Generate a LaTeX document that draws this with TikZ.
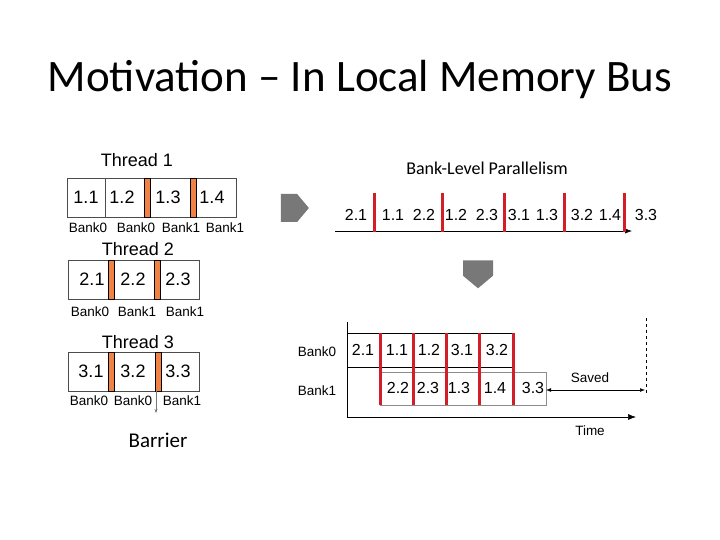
\documentclass[tikz,border=0pt]{standalone}
\usepackage{fontspec}
\setmainfont{Liberation Sans}
\newfontfamily\calfont{Carlito}
\usetikzlibrary{arrows.meta,shapes.arrows}
\definecolor{org}{RGB}{240,130,70}
\definecolor{rd}{RGB}{210,30,40}
\definecolor{gr}{RGB}{120,120,120}
\tikzset{num/.style={font=\fontsize{18}{18}\selectfont,inner sep=0pt},
 bank/.style={font=\fontsize{13.5}{13.5}\selectfont,inner sep=0pt},
 ttl/.style={font=\fontsize{18}{18}\selectfont,inner sep=0pt},
 obar/.style={fill=org,draw=black,line width=0.5pt},
 rbar/.style={draw=rd,line width=3pt},
 cell/.style={draw=black!70,line width=0.6pt},
 garrow/.style={fill=gr,draw=none,single arrow,minimum height=#1,inner sep=0pt,single arrow head extend=0pt,single arrow tip angle=100}}
\begin{document}
\begin{tikzpicture}[x=1pt,y=-1pt]
\useasboundingbox (0,0) rectangle (720,540);
\node[font=\calfont\fontsize{45}{45}\selectfont] (title) at (360,80) {Motivation – In Local Memory Bus};
% Thread 1
\node[ttl] (t1) at (137,160) {Thread 1};
\draw[cell] (67,178) rectangle (236,217);
\draw[cell] (105,178) -- (105,217);
\draw[obar] (144,178) rectangle (150,217);
\draw[obar] (190,178) rectangle (196,217);
\node[num] (c11) at (86,197) {1.1};
\node[num] (c12) at (122,197) {1.2};
\node[num] (c13) at (168,197) {1.3};
\node[num] (c14) at (212,197) {1.4};
\node[bank] (b11) at (88,228) {Bank0};
\node[bank] (b12) at (136,228) {Bank0};
\node[bank] (b13) at (181,228) {Bank1};
\node[bank] (b14) at (225,228) {Bank1};
% Thread 2
\node[ttl] (t2) at (138,249) {Thread 2};
\draw[cell] (68,260) rectangle (199,299);
\draw[obar] (108,260) rectangle (114,299);
\draw[obar] (154,260) rectangle (160,299);
\node[num] (c21) at (92,279) {2.1};
\node[num] (c22) at (133,279) {2.2};
\node[num] (c23) at (178,279) {2.3};
\node[bank] (b21) at (90,312) {Bank0};
\node[bank] (b22) at (137,312) {Bank1};
\node[bank] (b23) at (185,312) {Bank1};
% Thread 3
\node[ttl] (t3) at (138,342) {Thread 3};
\draw[cell] (68,352) rectangle (199,391);
\draw[obar] (108,352) rectangle (114,391);
\draw[obar] (155,352) rectangle (161,391);
\node[num] (c31) at (91,371) {3.1};
\node[num] (c32) at (133,371) {3.2};
\node[num] (c33) at (178,371) {3.3};
\node[bank] (b31) at (89,401) {Bank0};
\node[bank] (b32) at (133,401) {Bank0};
\node[bank] (b33) at (182,401) {Bank1};
\coordinate (bt) at (156,391); \coordinate (bb) at (156,413);
\draw[gr,-{Stealth[length=4pt]}] (bt) -- (bb);
\node[font=\calfont\fontsize{21}{21}\selectfont] (barrier) at (158,440) {Barrier};
% arrows
\node[garrow=28pt,minimum width=28pt] (ra) at (289,208) {};
\node[garrow=28pt,minimum width=30pt,shape border rotate=270] (da) at (478,268) {};
% timeline
\node[font=\calfont\fontsize{18}{18}\selectfont] (blp) at (487,168) {Bank-Level Parallelism};
\coordinate (ts) at (335,231); \coordinate (te) at (632,231);
\draw[-{Latex[length=7pt]},line width=0.6pt] (ts) -- (te);
\foreach \x in {374,442,504,564,624} \draw[rbar] (\x,193) -- (\x,232);
\foreach \x/\t in {356/2.1,393/1.1,424/2.2,456/1.2,487/2.3,519/3.1,547/1.3,582/3.2,610/1.4,646/3.3}
  \node[num,font=\fontsize{16}{16}\selectfont] at (\x,215) {\t};
% bottom chart
\coordinate (o) at (347,417); \coordinate (yt) at (347,322); \coordinate (xe) at (636,417);
\draw[line width=0.6pt] (yt) -- (o);
\draw[-{Latex[length=8pt]},line width=0.6pt] (o) -- (xe);
\draw[line width=0.7pt] (347,333) rectangle (513,367);
\draw[draw=black!45,line width=0.7pt] (380,372) rectangle (546,405);
\foreach \x in {380,413,446,479,513} \draw[rbar] (\x,333) -- (\x,405);
\node[bank] (bk0) at (317,352) {Bank0};
\node[bank] (bk1) at (317,391) {Bank1};
\foreach \x/\t in {363/2.1,397/1.1,429/1.2,462/3.1,497/3.2}
  \node[num,font=\fontsize{16}{16}\selectfont] at (\x,350) {\t};
\foreach \x/\t in {398/2.2,428/2.3,459/1.3,495/1.4,533/3.3}
  \node[num,font=\fontsize{16}{16}\selectfont] at (\x,388) {\t};
\coordinate (sa) at (546,390); \coordinate (sb) at (645,390);
\draw[{Latex[length=5pt]}-{Latex[length=5pt]},line width=0.5pt] (sa) -- (sb);
\node[bank] (saved) at (590,378) {Saved};
\draw[dashed,line width=0.6pt] (646,318) -- (646,395);
\node[bank] (time) at (590,431) {Time};
\end{tikzpicture}
\end{document}
